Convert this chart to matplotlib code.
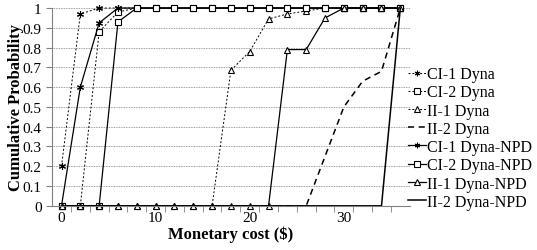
import matplotlib.pyplot as plt
import numpy as np

plt.rcParams['font.family'] = ['Liberation Serif', 'DejaVu Serif']

# monetary cost categories ($)
cost = np.arange(0, 37, 2)

ci1_dyna = [0.2, 0.97, 1, 1, 1, 1, 1, 1, 1, 1, 1, 1, 1, 1, 1, 1, 1, 1, 1]
ci2_dyna = [0, 0, 0.88, 0.98, 1, 1, 1, 1, 1, 1, 1, 1, 1, 1, 1, 1, 1, 1, 1]
ii1_dyna = [0, 0, 0, 0, 0, 0, 0, 0, 0, 0.685, 0.78, 0.945, 0.97, 0.985, 1, 1, 1, 1, 1]
ii2_dyna = [0, 0, 0, 0, 0, 0, 0, 0, 0, 0, 0, 0, 0, 0, 0.25, 0.5, 0.63, 0.68, 1]
ci1_npd = [0, 0.6, 0.925, 1, 1, 1, 1, 1, 1, 1, 1, 1, 1, 1, 1, 1, 1, 1, 1]
ci2_npd = [0, 0, 0, 0.93, 1, 1, 1, 1, 1, 1, 1, 1, 1, 1, 1, 1, 1, 1, 1]
ii1_npd = [0, 0, 0, 0, 0, 0, 0, 0, 0, 0, 0, 0, 0.79, 0.79, 0.95, 1, 1, 1, 1]
ii2_npd = [0, 0, 0, 0, 0, 0, 0, 0, 0, 0, 0, 0, 0, 0, 0, 0, 0, 0, 1]

fig = plt.figure(figsize=(5.37, 2.51), dpi=100)
ax = fig.add_axes([0.097, 0.176, 0.666, 0.788])

dot = (0, (2, 2))
dash = (0, (4, 3))
star = (6, 2, 0)
mk = dict(markersize=5, markerfacecolor='white', markeredgecolor='black',
          markeredgewidth=0.8, clip_on=False)

ax.plot(cost, ci1_dyna, color='black', lw=0.7, ls=dot, marker=star, label='CI-1 Dyna', **mk)
ax.plot(cost, ci2_dyna, color='black', lw=0.7, ls=dot, marker='s', label='CI-2 Dyna', **mk)
ax.plot(cost, ii1_dyna, color='black', lw=0.7, ls=dot, marker='^', label='II-1 Dyna', **mk)
ax.plot(cost, ii2_dyna, color='black', lw=1.1, ls=dash, label='II-2 Dyna', clip_on=False)
ax.plot(cost, ci1_npd, color='black', lw=0.9, ls='-', marker=star, label='CI-1 Dyna-NPD', **mk)
ax.plot(cost, ci2_npd, color='black', lw=0.9, ls='-', marker='s', label='CI-2 Dyna-NPD', **mk)
ax.plot(cost, ii1_npd, color='black', lw=0.9, ls='-', marker='^', label='II-1 Dyna-NPD', **mk)
ax.plot(cost, ii2_npd, color='black', lw=1.1, ls='-', label='II-2 Dyna-NPD', clip_on=False)

ax.set_xlim(-1, 37)
ax.set_ylim(0, 1)
ax.set_xticks([0, 10, 20, 30])
ax.set_xticks(np.arange(1, 37, 2), minor=True)
ax.set_yticks(np.arange(0, 1.01, 0.1))
ax.set_yticklabels(['0', '0.1', '0.2', '0.3', '0.4', '0.5', '0.6', '0.7', '0.8', '0.9', '1'])
ax.tick_params(axis='x', which='major', length=0, labelsize=11, pad=4)
ax.tick_params(axis='x', which='minor', length=4, direction='out', color='gray')
ax.tick_params(axis='y', length=4, direction='out', color='gray', labelsize=11)
ax.yaxis.grid(True, color='gray', ls=(0, (1, 1)), lw=0.6)
ax.set_axisbelow(True)
for s in ['top', 'right']:
    ax.spines[s].set_visible(False)
for s in ['left', 'bottom']:
    ax.spines[s].set_color('gray')

ax.set_xlabel('Monetary cost ($)', fontsize=12, fontweight='bold', labelpad=1)
ax.set_ylabel('Cumulative Probability', fontsize=12, fontweight='bold', labelpad=-1)

ax.legend(loc='lower left', bbox_to_anchor=(0.995, -0.02), frameon=False, fontsize=11.5,
          handlelength=1.1, handletextpad=0.1, labelspacing=0.14, borderpad=0,
          borderaxespad=0, markerscale=0.8)

fig.savefig('out.png', dpi=100)
